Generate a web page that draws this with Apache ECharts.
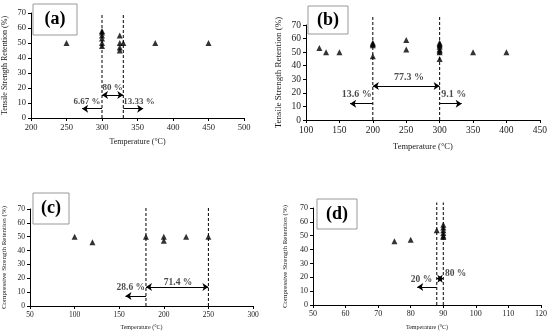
<!DOCTYPE html>
<html><head><meta charset="utf-8">
<script src="https://cdn.jsdelivr.net/npm/echarts@6/dist/echarts.min.js"></script>
<style>html,body{margin:0;padding:0;background:#fff}#c{width:550px;height:332px}</style>
</head><body><div id="c"></div>
<script>
// ---- data ----
const aTemp = [250, 300,300,300,300,300,300, 325,325,325,325, 330, 375, 450];
const aRet  = [50,  48,50,53,55,57,58,       55,50,47,45,     50,  50,  50];
const bTemp = [120,130,150, 200,200,200,200, 250,250, 300,300,300,300,300,300,300,300, 350,400];
const bRet  = [53, 50, 50,  47, 55, 56, 57,  59, 52,  45, 50, 51, 52, 54, 55, 56, 57,  50, 50];
const cTemp = [100,120,180,200,200,225,250];
const cRet  = [50, 46, 50, 50, 47, 50, 50];
const dTemp = [75,80,88, 90,90,90,90,90,90];
const dRet  = [46,47,54, 49,50,52,54,56,58];
const aLines = [300,330], bLines = [200,300], cLines = [180,250], dLines = [88,90];
const aLineTop = 70, bLineTop = 76, cLineTop = 71, dLineTop = 74;
// annotations: [x, y, text]
const aLabels = [[315,20,'80 %'],[279,10.7,'6.67 %'],[352,10.7,'13.33 %']];
const bLabels = [[254,31.7,'77.3 %'],[176,19,'13.6 %'],[321,19,'9.1 %']];
const cLabels = [[216,16.6,'71.4 %'],[163,13,'28.6 %']];
const dLabels = [[83.3,18.4,'20 %'],[93.8,22.7,'80 %']];
// arrows: [x1, x2, y, double]
const aArrows = [[300,330,15.3,true],[300,272,6.2,false],[330,358,6.2,false]];
const bArrows = [[200,300,25,true],[200,166,12,false],[300,333,12,false]];
const cArrows = [[180,250,13.7,true],[180,157,7.2,false]];
const dArrows = [[88,90,19,true],[88,82,13,false]];

const F = '"Liberation Serif","Times New Roman",serif';
const TXT = '#1a1a1a';

function xAx(i,min,max,interval,nameSize,gap,tick){
  return {gridIndex:i,type:'value',min,max,interval,name:'Temperature (°C)',nameLocation:'middle',nameGap:gap,
    nameTextStyle:{fontFamily:F,fontSize:nameSize,color:TXT},
    axisLine:{show:true,lineStyle:{color:'#000',width:1}},axisTick:{show:true,length:3,lineStyle:{color:'#000'}},
    axisLabel:{fontFamily:F,fontSize:tick,color:TXT,margin:5},splitLine:{show:false}};
}
function yAx(i,name,nameSize,gap,tick){
  return {gridIndex:i,type:'value',min:0,max:70,interval:10,name,nameLocation:'middle',nameGap:gap,
    nameTextStyle:{fontFamily:F,fontSize:nameSize,color:TXT},
    axisLine:{show:true,lineStyle:{color:'#000',width:1}},axisTick:{show:true,length:3,lineStyle:{color:'#000'}},
    axisLabel:{fontFamily:F,fontSize:tick,color:TXT,margin:5},splitLine:{show:false}};
}
const series = [];
function panel(i,xs,ys,lines,top,labels,arrows,lblSize){
  series.push({type:'scatter',xAxisIndex:i,yAxisIndex:i,symbol:'triangle',symbolSize:6,
    itemStyle:{color:'#000'},data:xs.map((x,k)=>[x,ys[k]]),z:5,
    markLine:{silent:true,symbolSize:[6,6],label:{show:false},lineStyle:{color:'#000',width:1,type:'solid'},
      data:arrows.map(a=>[{coord:[a[0],a[2]],symbol:a[3]?'arrow':'none'},{coord:[a[1],a[2]],symbol:'arrow'}])}});
  lines.forEach(v=>series.push({type:'line',xAxisIndex:i,yAxisIndex:i,clip:false,symbol:'none',
    lineStyle:{color:'#000',width:1,type:[3,2]},data:[[v,0],[v,top]]}));
  series.push({type:'scatter',xAxisIndex:i,yAxisIndex:i,symbolSize:1,itemStyle:{color:'rgba(0,0,0,0)'},
    data:labels.map(l=>({value:[l[0],l[1]],name:l[2]})),
    label:{show:true,position:'inside',formatter:'{b}',fontFamily:F,fontSize:lblSize,fontWeight:'bold',color:TXT}});
}
panel(0,aTemp,aRet,aLines,aLineTop,aLabels,aArrows,9);
panel(1,bTemp,bRet,bLines,bLineTop,bLabels,bArrows,10);
panel(2,cTemp,cRet,cLines,cLineTop,cLabels,cArrows,9.5);
panel(3,dTemp,dRet,dLines,dLineTop,dLabels,dArrows,9.5);

function box(x,y,w,h,t){
  return [{type:'rect',shape:{x,y,width:w,height:h},style:{fill:'#fff',stroke:'#999',lineWidth:1},z:10},
          {type:'text',x:x+w/2,y:y+h/2,style:{text:t,font:'bold 18px '+F,fill:'#000',align:'center',verticalAlign:'middle'},z:11}];
}
const chart = echarts.init(document.getElementById('c'));
chart.setOption({
  animation:false,backgroundColor:'#fff',
  grid:[{left:29,top:13,width:215,height:105},{left:306,top:25,width:234,height:95},
        {left:29,top:209,width:224,height:97},{left:313,top:208,width:228,height:97}],
  xAxis:[xAx(0,200,500,50,8,20,8.5),xAx(1,100,450,50,8.5,22,9.5),xAx(2,50,300,50,6,18,7.5),xAx(3,50,120,10,6,19,8)],
  yAxis:[yAx(0,'Tensile Strength Retention (%)',8,22,8.5),yAx(1,'Tensile Strength Retention (%)',9,23,9.5),
         yAx(2,'Compressive Strength Retention (%)',7,22,7.5),yAx(3,'Compressive Strength Retention (%)',7,24,8)],
  graphic:[...box(33,4,44,31,'(a)'),...box(308,6,40,28,'(b)'),...box(33,193,36,31,'(c)'),...box(317,199,40,30,'(d)')],
  series
});
</script></body></html>
